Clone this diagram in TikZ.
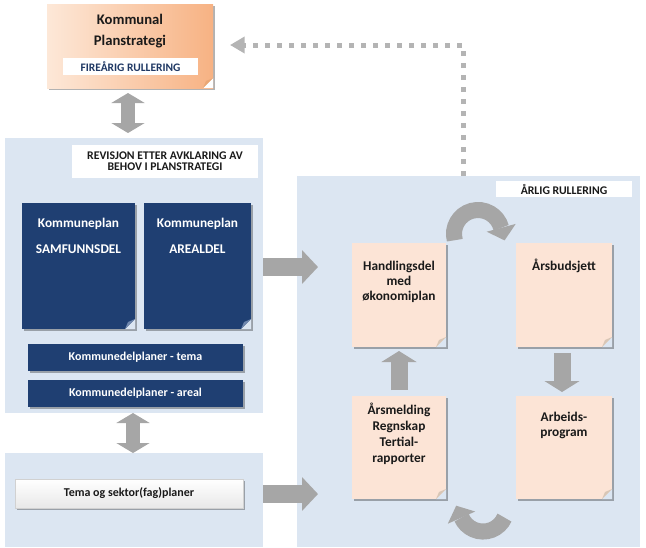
\documentclass[tikz,border=0pt]{standalone}
\usepackage{fontspec}
\setmainfont{Carlito}
\usetikzlibrary{arrows.meta,fit,shadows,calc}
\definecolor{panelbg}{HTML}{DCE6F2}
\definecolor{navy}{HTML}{1F3F72}
\definecolor{peach}{HTML}{FCE4D6}
\definecolor{arrowgray}{HTML}{A6A6A6}
\definecolor{dotgray}{HTML}{B4B4B4}
\definecolor{labelnavy}{HTML}{1F3864}
\definecolor{orangeL}{HTML}{FDE8D8}
\definecolor{orangeR}{HTML}{F7B283}
\definecolor{foldnavy}{HTML}{7088AE}
\definecolor{foldpeach}{HTML}{D8C6B6}
\definecolor{foldorange}{HTML}{E9A775}
\definecolor{txt}{HTML}{1A1A1A}
\tikzset{
  box/.style={inner sep=0pt, outer sep=0pt, draw=none},
  panel/.style={box, fill=panelbg},
  whitelabel/.style={box, fill=white},
  shade/.style={drop shadow={shadow xshift=1.8pt, shadow yshift=-1.8pt, fill=black, opacity=.3}},
  note/.style 2 args={path picture={
    \fill[#2] ($(path picture bounding box.south east)+(-10,0)$) -- (path picture bounding box.south east) -- ($(path picture bounding box.south east)+(0,-10)$) -- cycle;
    \fill[#1] ($(path picture bounding box.south east)+(-10,0)$) -- ($(path picture bounding box.south east)+(0,-10)$) -- ($(path picture bounding box.south east)+(-7,-7)$) -- cycle;
  }},
  navybox/.style={box, fill=navy, shade, note={foldnavy}{panelbg}},
  navybar/.style={box, fill=navy, shade},
  peachbox/.style={box, fill=peach, shade, note={foldpeach}{panelbg}},
  boxtext/.style={inner sep=0pt, align=center, font=\bfseries\fontsize{10}{11.25}\selectfont, text=txt},
  labeltext/.style={inner sep=0pt, align=center, font=\bfseries\fontsize{8.8}{8.4}\selectfont, text=txt},
  whitetext/.style={inner sep=0pt, align=center, font=\bfseries\fontsize{9}{10}\selectfont, text=white},
  rarrow/.style={draw=arrowgray, line width=13.5pt, -{Triangle[width=24.75pt,length=12pt]}},
  dblarrow/.style={draw=arrowgray, line width=10.5pt, {Triangle[width=24.75pt,length=7.5pt]}-{Triangle[width=24.75pt,length=7.5pt]}},
  vstep/.style={draw=arrowgray, line width=12.75pt, -{Triangle[width=26pt,length=8.25pt]}},
  curvearrow/.style={draw=arrowgray, line width=12pt},
  dotline/.style={draw=dotgray, line width=3.75pt, dash pattern=on 3.75pt off 5.25pt, -{Triangle[width=12pt,length=11pt]}},
}
\begin{document}
\begin{tikzpicture}[x=0.75pt, y=-0.75pt]
\useasboundingbox (0,0) rectangle (646,547);

% panels
\node[panel, fit={(5,138) (263,413)}] (panelA) {};
\node[panel, fit={(5,453) (263,547)}] (panelB) {};
\node[panel, fit={(297,176) (640,547)}] (panelC) {};

% top box
\node[box, left color=orangeL, right color=orangeR, shade, note={foldorange}{white}, fit={(47,4) (213,88)}] (plan) {};
\node[boxtext, font=\bfseries\fontsize{11}{15.5}\selectfont] (plantext) at (130,31) {Kommunal\\Planstrategi};
\node[whitelabel, fit={(63,58) (198,75)}] (fire) {};
\node[labeltext, text=labelnavy, font=\bfseries\fontsize{8.6}{9}\selectfont] (firetext) at (fire.center) {FIREÅRIG RULLERING};

% panel A content
\node[whitelabel, fit={(72,145) (258,178)}] (revlabel) {};
\node[labeltext] (revtext) at (165,161) {REVISJON ETTER AVKLARING AV\\BEHOV I PLANSTRATEGI};
\node[navybox, fit={(22,203) (135,329)}] (samf) {};
\node[navybox, fit={(144,203) (251,329)}] (areal) {};
\node[whitetext, font=\bfseries\fontsize{10}{19.5}\selectfont] (samftext) at (78.5,235.5) {Kommuneplan\\SAMFUNNSDEL};
\node[whitetext, font=\bfseries\fontsize{10}{19.5}\selectfont] (arealtext) at (197.5,235.5) {Kommuneplan\\AREALDEL};
\node[navybar, fit={(28,344) (243,371)}] (tema) {};
\node[whitetext] (tematext) at (tema.center) {Kommunedelplaner - tema};
\node[navybar, fit={(28,380) (243,407)}] (kdareal) {};
\node[whitetext] (kdarealtext) at (kdareal.center) {Kommunedelplaner - areal};

% panel B content
\node[box, top color=white, bottom color=black!9, draw=black!18, line width=0.4pt, shade, fit={(15,479) (243,508)}] (sektor) {};
\node[boxtext, font=\bfseries\fontsize{9}{10}\selectfont] (sektortext) at (sektor.center) {Tema og sektor(fag)planer};

% panel C content
\node[whitelabel, fit={(496,181) (632,197)}] (arlig) {};
\node[labeltext] (arligtext) at (arlig.center) {ÅRLIG RULLERING};
\node[peachbox, fit={(352,243) (446,347)}] (hand) {};
\node[peachbox, fit={(516,243) (612,347)}] (budsj) {};
\node[peachbox, fit={(352,396) (446,499)}] (arsm) {};
\node[peachbox, fit={(516,396) (612,499)}] (arb) {};
\node[boxtext] (handtext) at (399,282) {Handlingsdel\\med\\økonomiplan};
\node[boxtext] (budsjtext) at (564,266) {Årsbudsjett};
\node[boxtext, font=\bfseries\fontsize{10}{12}\selectfont] (arsmtext) at (399,434) {Årsmelding\\Regnskap\\Tertial-\\rapporter};
\node[boxtext] (arbtext) at (564,425) {Arbeids-\\program};

% connectors
\draw[dblarrow] ($(plan.south)+(-2,5)$) -- ($(plan.south |- panelA.north)+(-2,-5)$);
\draw[dblarrow] ($(panelA.south)+(-1,0)$) -- ($(panelA.south |- panelB.north)+(-1,0)$);
\draw[rarrow] (panelA.east |- 0,267) -- ($(panelC.west |- 0,267)+(21,0)$);
\draw[rarrow] (panelB.east |- 0,494) -- ($(panelC.west |- 0,494)+(21,0)$);
\draw[vstep] ($(arsm.north)+(0,-6)$) -- ($(hand.south)+(0,4)$);
\draw[vstep] ($(budsj.south)+(-2,6)$) -- ($(arb.north)+(-2,-4)$);
\draw[dotline] ($(panelC.north)+(-5.5,0)$) |- ($(plan.east)+(17,-1)$);

% circular arrows
\draw[curvearrow] (454.8,240.2) arc[start angle=165, end angle=345, radius=24];
\fill[arrowgray] (486.7,231.7) -- (515.7,223.9) -- (504.6,240.4) -- cycle;
\draw[curvearrow] (504.5,517.6) arc[start angle=24, end angle=156, radius=23.5];
\fill[arrowgray] (475.2,511.5) -- (447.8,523.7) -- (456.2,505.7) -- cycle;
\end{tikzpicture}
\end{document}
